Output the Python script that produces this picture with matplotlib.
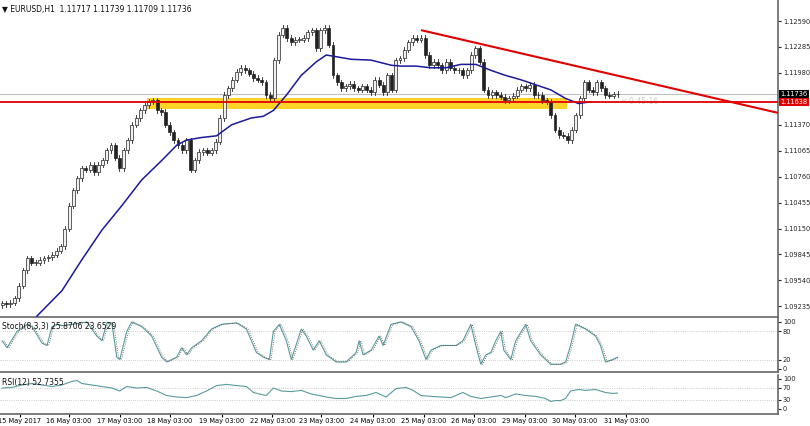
import matplotlib
matplotlib.use("Agg")
import matplotlib.pyplot as plt
from matplotlib.patches import Rectangle

# closes, one candle per 2 hours
closes = [1.0927, 1.0926, 1.0928, 1.0933, 1.0948, 1.0966, 1.0980, 1.0975, 1.0975, 1.0978,
          1.0980, 1.0981, 1.0984, 1.0989, 1.0994, 1.1015, 1.1042, 1.1060, 1.1074, 1.1086,
          1.1084, 1.1090, 1.1081, 1.1090, 1.1095, 1.1107, 1.1113, 1.1098, 1.1086, 1.1107,
          1.1119, 1.1137, 1.1145, 1.1154, 1.1160, 1.1164, 1.1166, 1.1154, 1.1152, 1.1137,
          1.1128, 1.1119, 1.1113, 1.1107, 1.1119, 1.1084, 1.1095, 1.1105, 1.1107, 1.1104,
          1.1107, 1.1117, 1.1145, 1.1172, 1.1180, 1.1190, 1.1199, 1.1204, 1.1201, 1.1197,
          1.1192, 1.1190, 1.1187, 1.1172, 1.1168, 1.1213, 1.1243, 1.1251, 1.1239, 1.1234,
          1.1237, 1.1237, 1.1239, 1.1246, 1.1248, 1.1227, 1.1248, 1.1251, 1.1231, 1.1195,
          1.1187, 1.1180, 1.1182, 1.1185, 1.1180, 1.1178, 1.1182, 1.1178, 1.1175, 1.1190,
          1.1184, 1.1175, 1.1195, 1.1178, 1.1213, 1.1215, 1.1225, 1.1234, 1.1239, 1.1237,
          1.1239, 1.1219, 1.1207, 1.1211, 1.1207, 1.1201, 1.1211, 1.1204, 1.1201, 1.1201,
          1.1195, 1.1201, 1.1219, 1.1227, 1.1211, 1.1178, 1.1172, 1.1175, 1.1172, 1.1170,
          1.1166, 1.1168, 1.1171, 1.1178, 1.1182, 1.1180, 1.1184, 1.1172, 1.1172, 1.1166,
          1.1164, 1.1148, 1.1131, 1.1125, 1.1124, 1.1119, 1.1131, 1.1148, 1.1168, 1.1187,
          1.1178, 1.1175, 1.1187, 1.1180, 1.1172, 1.1171, 1.1173, 1.11736]

ma_x = [8.3, 14.3, 19, 23.8, 28.6, 33.3, 38.1, 41.7, 44, 47.6, 51.2, 54.8, 59.5, 62.4, 64.8,
        67.9, 71.4, 75, 77.4, 79.8, 83.3, 88.1, 92.9, 95.2, 98.8, 102.4, 106, 109.5, 113.1,
        116.7, 120.2, 123.8, 127.4, 131, 134.5, 137.6, 140.5]
ma_y = [1.0912, 1.0942, 1.0978, 1.1013, 1.1042, 1.1072, 1.1095, 1.1113, 1.1119, 1.1122,
        1.1124, 1.1137, 1.1145, 1.1147, 1.1154, 1.1172, 1.1195, 1.1211, 1.1219, 1.1217,
        1.1214, 1.1213, 1.1207, 1.1206, 1.1206, 1.1204, 1.1204, 1.1208, 1.1208, 1.1201,
        1.1195, 1.1190, 1.1184, 1.1178, 1.1168, 1.1162, 1.1164]

stoch_px = [0, 5, 15, 25, 30, 40, 45, 50, 55, 60, 70, 85, 95, 100, 105, 110, 115, 118, 125, 130,
            140, 150, 160, 165, 170, 175, 180, 185, 190, 200, 210, 220, 235, 245, 255, 262, 268,
            272, 278, 285, 290, 300, 305, 312, 318, 325, 335, 345, 355, 358, 362, 370, 378, 382,
            390, 400, 410, 418, 425, 430, 440, 455, 462, 470, 475, 480, 485, 490, 495, 500, 503,
            510, 515, 525, 530, 540, 550, 560, 565, 570, 575, 585, 595, 600, 605, 612, 617]
stoch_val = [60, 45, 80, 95, 90, 55, 50, 90, 95, 92, 95, 100, 70, 60, 98, 98, 25, 20, 80, 100,
             90, 70, 25, 15, 20, 25, 45, 30, 45, 60, 85, 95, 98, 85, 35, 25, 20,
             80, 95, 60, 20, 85, 70, 40, 60, 30, 15, 15, 35, 60, 30, 40, 70, 50,
             95, 100, 90, 60, 20, 40, 50, 50, 60, 95, 50, 10, 30, 35, 60, 80, 40,
             20, 60, 95, 60, 30, 10, 10, 15, 50, 95, 85, 70, 50, 15, 20, 25]

rsi_px = [0, 10, 20, 30, 40, 50, 60, 70, 75, 80, 90, 100, 110, 118, 125, 135, 145, 155, 165, 175,
          185, 195, 205, 215, 225, 235, 245, 252, 258, 265, 272, 280, 290, 300, 310, 318, 325,
          335, 345, 355, 365, 375, 385, 395, 405, 412, 420, 430, 440, 450, 462, 470, 480, 490,
          500, 505, 515, 525, 535, 545, 550, 555, 560, 565, 570, 578, 585, 595, 605, 612, 617]
rsi_val = [70, 72, 80, 85, 80, 75, 80, 92, 95, 85, 80, 75, 70, 60, 75, 70, 72, 60, 45, 40,
           38, 45, 60, 78, 82, 78, 75, 55, 50, 45, 70, 60, 58, 62, 50, 45, 40,
           35, 35, 42, 45, 55, 40, 68, 72, 62, 45, 42, 40, 38, 55, 42, 35, 40,
           45, 38, 50, 45, 42, 35, 25, 28, 28, 35, 60, 65, 62, 65, 55, 52, 53]

date_px = [18, 67, 118, 168, 220, 271, 320, 372, 423, 473, 524, 574, 626]
date_labels = ["15 May 2017", "16 May 03:00", "17 May 03:00", "18 May 03:00", "19 May 03:00",
               "22 May 03:00", "23 May 03:00", "24 May 03:00", "25 May 03:00", "26 May 03:00",
               "29 May 03:00", "30 May 03:00", "31 May 03:00"]
price_ticks = [1.12590, 1.12285, 1.11980, 1.11370, 1.11065, 1.10760, 1.10455,
               1.10150, 1.09845, 1.09540, 1.09235]

support = 1.11638
last_price = 1.11736
PX = 4.2  # reference pixels per candle
XMAX = 778 / PX
FS = 4.8

fig = plt.figure(figsize=(8.1, 4.26), dpi=100)
ax = fig.add_axes([0, 0.2559, 0.9605, 0.7441])
ax_s = fig.add_axes([0, 0.1268, 0.9605, 0.1268])
ax_r = fig.add_axes([0, 0.0282, 0.9605, 0.0915])

for a in (ax, ax_s, ax_r):
    a.set_xlim(-0.5, XMAX)
    a.yaxis.tick_right()
    a.tick_params(axis="y", labelsize=FS, length=2, pad=1.5, colors="#222")
    a.tick_params(axis="x", bottom=False, labelbottom=False)
    for s in a.spines.values():
        s.set_color("#666")
        s.set_linewidth(1.2)
    a.spines["top"].set_visible(False)
    a.spines["left"].set_visible(False)

ax.set_ylim(1.0911, 1.12837)
ax.set_yticks(price_ticks)
ax.set_yticklabels([f"{t:.5f}" for t in price_ticks])

# yellow support zone + lines
ax.add_patch(Rectangle((145 / PX, 1.1155), (566 - 145) / PX, 0.0014,
                       color="#ffcc00", alpha=0.85, lw=0, zorder=1))
ax.axhline(last_price, color="#c0c0c0", lw=0.8, zorder=1)
ax.axhline(support, color="#e00000", lw=1.3, zorder=4)
ax.plot([421 / PX, XMAX], [1.1248, 1.1151], color="#e00000", lw=1.5, zorder=4)

# candles
wick = 0.0003
for i, c in enumerate(closes):
    o = closes[i - 1] if i else c - 0.0002
    hi, lo = max(o, c) + wick, min(o, c) - wick
    ax.plot([i, i], [lo, hi], color="#222", lw=0.6, zorder=2)
    face = "#f0f0f0" if c >= o else "#222"
    ax.add_patch(Rectangle((i - 0.35, min(o, c)), 0.7, max(abs(c - o), 0.00005),
                           facecolor=face, edgecolor="#222", lw=0.5, zorder=3))

ax.plot(ma_x, ma_y, color="#1a1a9a", lw=1.1, zorder=3)

ax.text(620 / PX, 1.1164, "<-0:45:16", color="#cccccc", fontsize=5.5, va="center")
ax.text(0.003, 0.985, "▼ EURUSD,H1  1.11717 1.11739 1.11709 1.11736", transform=ax.transAxes,
        fontsize=5.5, va="top", color="#111")
ax.text(1.003, last_price, "1.11736", transform=ax.get_yaxis_transform(), fontsize=FS,
        color="white", va="center", bbox=dict(facecolor="black", edgecolor="none", pad=0.8))
ax.text(1.003, support, "1.11638", transform=ax.get_yaxis_transform(), fontsize=FS,
        color="white", va="center", bbox=dict(facecolor="#e00000", edgecolor="none", pad=0.8))

# stochastic
ax_s.set_ylim(-6.4, 108.5)
ax_s.set_yticks([0, 20, 80, 100])
for lv in (20, 80):
    ax_s.axhline(lv, color="#bbb", lw=0.6, ls=":")
ax_s.plot([p / PX for p in stoch_px], stoch_val, color="#5a9aa0", lw=0.8)
ax_s.plot([p / PX + 0.4 for p in stoch_px], stoch_val, color="#555", lw=0.6, ls=":")
ax_s.text(0.003, 0.93, "Stoch(8,3,3) 25.8706 23.6529", transform=ax_s.transAxes,
          fontsize=5.5, va="top", color="#111")

# RSI
ax_r.set_ylim(-16.7, 113.3)
ax_r.set_yticks([0, 30, 70, 100])
for lv in (30, 70):
    ax_r.axhline(lv, color="#bbb", lw=0.6, ls=":")
ax_r.plot([p / PX for p in rsi_px], rsi_val, color="#5a9aa0", lw=0.8)
ax_r.text(0.003, 0.93, "RSI(12) 52.7355", transform=ax_r.transAxes,
          fontsize=5.5, va="top", color="#111")

ax_r.set_xticks([p / PX for p in date_px])
ax_r.set_xticklabels(date_labels)
ax_r.tick_params(axis="x", bottom=True, labelbottom=True, labelsize=FS, length=2, pad=1)

fig.savefig("out.png", dpi=100, facecolor="white")
